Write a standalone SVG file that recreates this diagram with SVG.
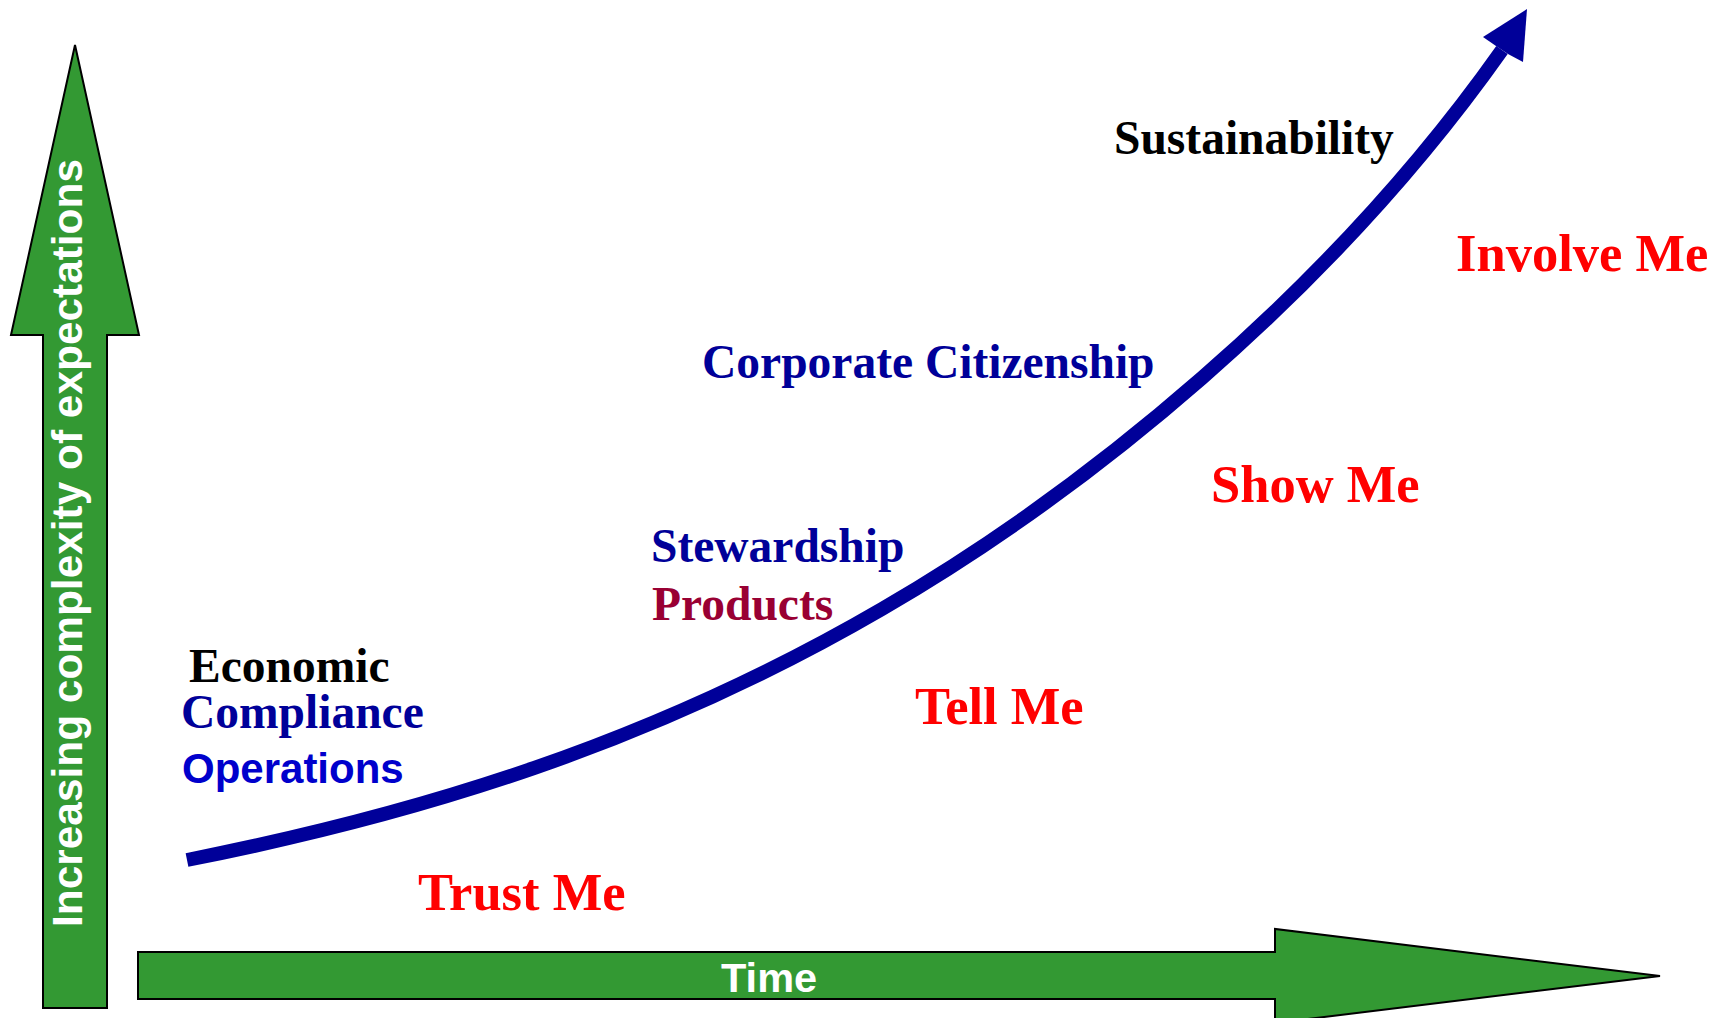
<svg xmlns="http://www.w3.org/2000/svg" width="1729" height="1018" viewBox="0 0 1729 1018">
  <style>
    .axis { fill: #339933; stroke: #000000; stroke-width: 2; stroke-linejoin: miter; }
    .axis-label { font-family: "Liberation Sans", Arial, sans-serif; font-weight: bold; fill: #ffffff; }
    .stage { font-family: "Liberation Serif", "Times New Roman", serif; font-weight: bold; font-size: 47.5px; }
    .mode { font-family: "Liberation Serif", "Times New Roman", serif; font-weight: bold; font-size: 52.5px; fill: #ff0000; }
    .navy { fill: #000099; }
    .black { fill: #000000; }
    .curve { fill: none; stroke: #000099; stroke-width: 14; stroke-linecap: butt; }
  </style>
  <rect width="1729" height="1018" fill="#ffffff"/>

  <!-- vertical axis arrow -->
  <g id="axis-expectations">
    <polygon class="axis" points="75,45 139,335 107,335 107,1008 43,1008 43,335 11,335"/>
    <text class="axis-label" font-size="42.4" transform="translate(82,927) rotate(-90)">Increasing complexity of expectations</text>
  </g>

  <!-- horizontal axis arrow -->
  <g id="axis-time">
    <polygon class="axis" points="138,952 1275,952 1275,929 1660,976 1275,1023 1275,999 138,999"/>
    <text class="axis-label" font-size="41.5" x="721" y="992">Time</text>
  </g>

  <!-- rising curve with arrowhead -->
  <g id="connectors">
    <path class="curve" d="M187,860 C419,814 650,744 882,609 C1082,493 1329,295 1502,50"/>
    <polygon fill="#000099" points="1527,9 1523,62 1508,54 1496,46 1483,37"/>
  </g>

  <!-- stage labels -->
  <g id="stage-economic">
    <text class="stage black" x="189" y="682">Economic</text>
    <text class="stage navy" x="181" y="728">Compliance</text>
    <text font-family="Liberation Sans, Arial, sans-serif" font-weight="bold" font-size="42" fill="#0000cc" x="182" y="783">Operations</text>
  </g>
  <g id="stage-stewardship">
    <text class="stage navy" x="651" y="562">Stewardship</text>
    <text class="stage" fill="#990033" x="652" y="620">Products</text>
  </g>
  <g id="stage-citizenship">
    <text class="stage navy" x="702" y="378">Corporate Citizenship</text>
  </g>
  <g id="stage-sustainability">
    <text class="stage black" x="1114" y="154">Sustainability</text>
  </g>

  <!-- stakeholder modes -->
  <g id="mode-trust"><text class="mode" x="418" y="910">Trust Me</text></g>
  <g id="mode-tell"><text class="mode" x="915" y="724">Tell Me</text></g>
  <g id="mode-show"><text class="mode" x="1211" y="502">Show Me</text></g>
  <g id="mode-involve"><text class="mode" x="1456" y="271">Involve Me</text></g>
</svg>
